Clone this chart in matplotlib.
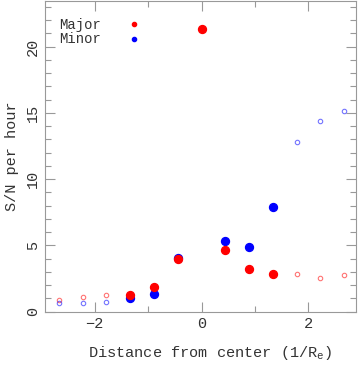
import matplotlib
matplotlib.use("Agg")
import matplotlib.pyplot as plt
from matplotlib.ticker import MultipleLocator

# Data
major_fill_x = [-1.33, -0.89, -0.44, 0.0, 0.44, 0.89, 1.33]
major_fill_y = [1.23, 1.88, 3.97, 21.3, 4.62, 3.24, 2.82]
major_open_x = [-2.66, -2.22, -1.78, 1.78, 2.22, 2.66]
major_open_y = [0.90, 1.13, 1.26, 2.82, 2.56, 2.76]

minor_fill_x = [-1.33, -0.89, -0.44, 0.44, 0.89, 1.33]
minor_fill_y = [1.03, 1.36, 4.07, 5.35, 4.85, 7.86]
minor_open_x = [-2.66, -2.22, -1.78, 1.78, 2.22, 2.66]
minor_open_y = [0.68, 0.65, 0.71, 12.83, 14.38, 15.14]

font = "Liberation Mono"
plt.rcParams['font.family'] = [font, 'DejaVu Sans']

fig = plt.figure(figsize=(3.58, 3.66), dpi=100)
ax = fig.add_axes([0.1257, 0.1484, 0.8687, 0.850])

red = "#ff0000"
blue = "#0000ff"
ax.plot(major_open_x, major_open_y, 'o', ms=3.2, mfc='none', mec=red, mew=0.8, alpha=0.55, ls='none')
ax.plot(minor_open_x, minor_open_y, 'o', ms=3.2, mfc='none', mec=blue, mew=0.8, alpha=0.55, ls='none')
ax.plot(minor_fill_x, minor_fill_y, 'o', ms=5.7, color=blue, ls='none')
ax.plot(major_fill_x, major_fill_y, 'o', ms=5.7, color=red, ls='none')

# legend
ax.plot([], [], 'o', ms=3, color=red, label='Major')
ax.plot([], [], 'o', ms=3, color=blue, label='Minor')
h, l = ax.get_legend_handles_labels()
leg = ax.legend(h[-2:], l[-2:], loc='upper left', frameon=False, markerfirst=False,
                bbox_to_anchor=(0.005, 0.985), handlelength=1.0, handletextpad=1.9,
                labelspacing=0.05, fontsize=10)
for t in leg.get_texts():
    t.set_color('#333333')

ax.set_xlim(-2.93, 2.89)
ax.set_ylim(0, 23.47)
ax.xaxis.set_major_locator(MultipleLocator(2))
ax.xaxis.set_minor_locator(MultipleLocator(1))
ax.yaxis.set_major_locator(MultipleLocator(5))
ax.yaxis.set_minor_locator(MultipleLocator(1))

gray = '#999999'
for s in ax.spines.values():
    s.set_color(gray)
    s.set_linewidth(0.8)
ax.tick_params(which='both', direction='in', top=True, right=True, color=gray,
               labelcolor='#333333', labelsize=11)
ax.tick_params(which='major', length=7.5, width=0.8)
ax.tick_params(which='minor', length=4, width=0.8)
for lab in ax.get_yticklabels():
    lab.set_rotation(90)
    lab.set_va('center')

ax.set_xlabel(r"Distance from center (1/R$_\mathregular{e}$)", fontsize=11, color='#333333')
ax.xaxis.set_label_coords(0.53, -0.105)
ax.set_ylabel("S/N per hour", fontsize=11, color='#333333', labelpad=5)

fig.savefig("out.png", dpi=100)
